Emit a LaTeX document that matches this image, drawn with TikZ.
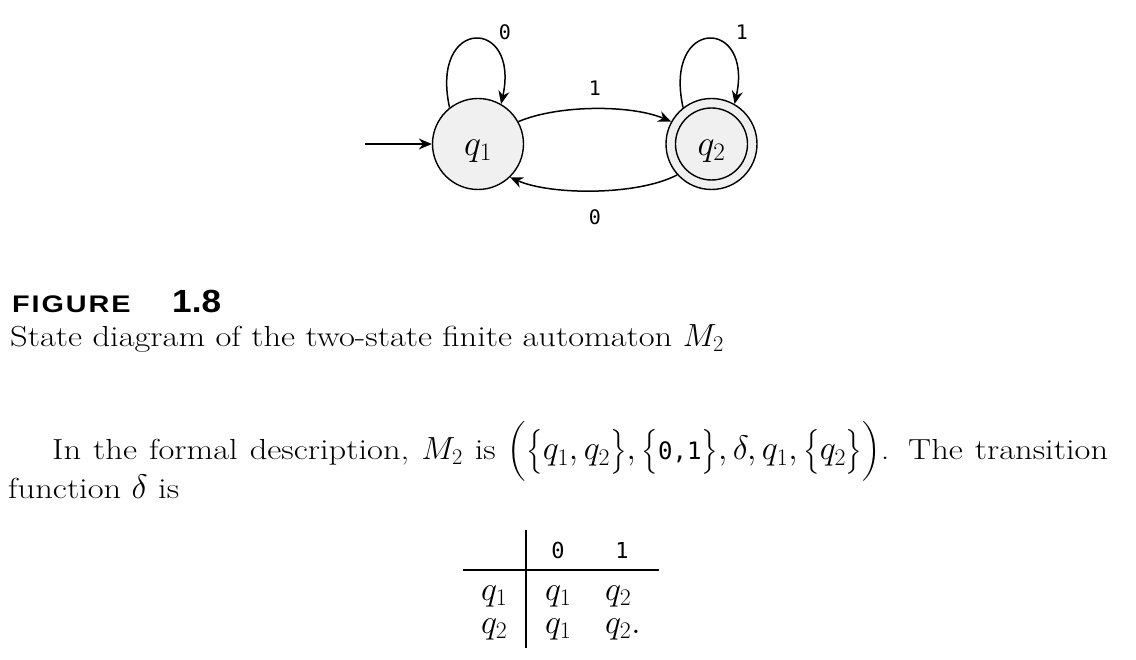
\RequirePackage{fix-cm}
\documentclass[tikz,border=0pt]{standalone}
\usepackage{amsmath}
\usepackage{fontspec}
\setmainfont{Latin Modern Roman}[FakeStretch=1.19]
\usetikzlibrary{arrows.meta}
\newfontfamily\lblfont{DejaVu Sans Mono}
\newfontfamily\figfont[FakeStretch=1.2,LetterSpace=8]{Liberation Sans}
\newfontfamily\numfont[FakeStretch=1.1]{Liberation Sans}
\definecolor{statefill}{gray}{0.94}
\newcommand{\mathbig}{\fontsize{34}{40}\selectfont}
\begin{document}
\begin{tikzpicture}[x=1pt,y=-1pt,
  state/.style={circle,draw,line width=1.4pt,fill=statefill,minimum size=91pt,inner sep=0pt,
                text height=23pt,text depth=0pt,font=\fontsize{36}{42}\selectfont},
  trans/.style={line width=1.5pt,-{Stealth[length=13pt,width=11pt]}},
  lbl/.style={inner sep=0pt,font=\lblfont\fontsize{20}{24}\selectfont},
  txt/.style={inner sep=0pt,anchor=base west,font=\fontsize{29}{34}\selectfont},
  cell/.style={inner sep=0pt,anchor=base west,font=\fontsize{34}{38}\selectfont},
  head/.style={inner sep=0pt,anchor=base,font=\lblfont\fontsize{22}{26}\selectfont},
  rule/.style={line width=1.3pt}
]
\useasboundingbox (0,0) rectangle (1136,660);

% states
\node[state] (q1) at (478,144) {$q_1$};
\node[state] (q2) at (711.5,144) {$q_2$};
\draw[line width=1.4pt] (q2.center) circle[radius=36pt];

% initial arrow
\coordinate (start) at (365,144);
\draw[trans] (start) -- (q1.west);

% loops
\draw[trans] (q1.128) .. controls +(-20,-91) and +(19,-87) .. (q1.60);
\draw[trans] (q2.128) .. controls +(-20,-91) and +(19,-87) .. (q2.60);
\node[lbl] (l0) at (505,32) {0};
\node[lbl] (l1) at (742,32) {1};

% transitions between states
\draw[trans] (q1.29) .. controls +(40,-17) and +(-40,-17) .. (q2.151);
\draw[trans] (q2.222) .. controls +(-40,21) and +(40,18) .. (q1.314);
\node[lbl] (a1) at (595,88) {1};
\node[lbl] (a0) at (595,217) {0};

% caption
\node[txt,font=\figfont\bfseries\fontsize{24}{28}\selectfont] (fig) at (12,313) {FIGURE};
\node[txt,font=\numfont\bfseries\fontsize{32}{36}\selectfont] (fignum) at (172,313) {1.8};
\node[txt] (cap) at (10,347) {State diagram of the two-state finite automaton {\fontsize{32}{36}\selectfont$M_2$}};

% paragraph
\node[txt] (p1) at (52,460) {\hbox to 1056pt{In the formal description, {\fontsize{32}{36}\selectfont$M_2$} is {\mathbig$\Bigl(\bigl\{q_1,q_2\bigr\},\bigl\{\mbox{\lblfont\fontsize{24}{28}\selectfont 0,1}\bigr\},\delta,q_1,\bigl\{q_2\bigr\}\Bigr)$}. The transition}};
\node[txt] (p2) at (8,498) {function {\mathbig$\delta$} is};

% table
\coordinate (vt) at (526,530);
\coordinate (vb) at (526,648);
\coordinate (hl) at (463,570);
\coordinate (hr) at (659,570);
\draw[rule] (vt) -- (vb);
\draw[rule] (hl) -- (hr);
\node[head] (h0) at (558,558) {0};
\node[head] (h1) at (622,558) {1};
\node[cell] (r1) at (481,600) {$q_1$};
\node[cell] (r2) at (481,633) {$q_2$};
\node[cell] (c11) at (545,600) {$q_1$};
\node[cell] (c12) at (605,600) {$q_2$};
\node[cell] (c21) at (545,633) {$q_1$};
\node[cell] (c22) at (605,633) {$q_2.$};
\end{tikzpicture}
\end{document}
